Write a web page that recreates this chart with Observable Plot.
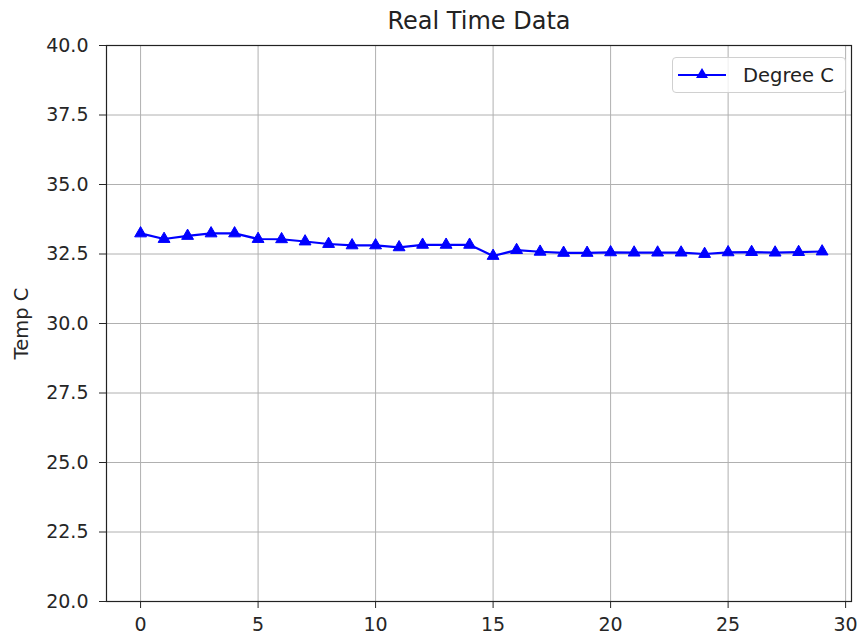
<!DOCTYPE html>
<html>
<head>
<meta charset="utf-8">
<script src="https://cdn.jsdelivr.net/npm/d3@7"></script>
<script src="https://cdn.jsdelivr.net/npm/@observablehq/plot@0.6"></script>
<style>
  body { margin: 0; background: #fff; font-family: "DejaVu Sans", sans-serif; }
  #wrap { position: relative; width: 858px; height: 643px; }
  #legend { position: absolute; left: 672px; top: 57px; width: 174px; height: 36px;
    border: 1px solid #d0d0d0; border-radius: 4px; background: rgba(255,255,255,0.8);
    box-sizing: border-box; display: flex; align-items: center; }
  #legend span { font-size: 19.5px; color: #222; margin-left: 10px; }
</style>
</head>
<body>
<div id="wrap"></div>
<script>
const title = "Real Time Data";
const yLabel = "Temp C";
const seriesName = "Degree C";
const samples = d3.range(30);
const temps = [33.24, 33.04, 33.15, 33.24, 33.24, 33.04, 33.03, 32.95, 32.86, 32.81, 32.81, 32.74, 32.83, 32.83, 32.83,
               32.43, 32.64, 32.58, 32.54, 32.54, 32.56, 32.55, 32.55, 32.55, 32.5, 32.56, 32.57, 32.55, 32.57, 32.59];
const yTicks = [20, 22.5, 25, 27.5, 30, 32.5, 35, 37.5, 40];
const xTicks = [0, 5, 10, 15, 20, 25, 30];

const data = samples.map((s, i) => ({x: s, y: temps[i]}));
const tickColor = "#262626";

const chart = Plot.plot({
  width: 858,
  height: 643,
  marginLeft: 106,
  marginRight: 7,
  marginTop: 45,
  marginBottom: 42,
  style: {fontFamily: "DejaVu Sans, sans-serif", background: "#fff", color: "#222"},
  x: {domain: [-1.45, 30.25]},
  y: {domain: [20, 40]},
  marks: [
    Plot.gridX(xTicks, {stroke: "#b0b0b0", strokeOpacity: 1, strokeWidth: 1}),
    Plot.gridY(yTicks, {stroke: "#b0b0b0", strokeOpacity: 1, strokeWidth: 1}),
    Plot.axisX(xTicks, {tickSize: 7, tickPadding: 9, fontSize: 19, label: null, stroke: tickColor, fill: tickColor}),
    Plot.axisY(yTicks, {tickSize: 7, tickPadding: 11, fontSize: 19, tickFormat: d3.format(".1f"),
      label: yLabel, labelAnchor: "center", labelArrow: "none", labelOffset: 92, stroke: tickColor, fill: tickColor}),
    Plot.frame({stroke: "#222", strokeWidth: 1.2}),
    Plot.line(data, {x: "x", y: "y", stroke: "#0000ff", strokeWidth: 2.2}),
    Plot.dot(data, {x: "x", y: "y", symbol: "triangle", r: 4.4, fill: "#0000ff", stroke: "#0000ff", strokeWidth: 1}),
    Plot.text([title], {frameAnchor: "top", lineAnchor: "middle", dy: -24, fontSize: 24, fill: "#222"})
  ]
});
d3.select(chart).selectAll("[aria-label='y-axis label'] text").attr("font-size", 19.5);
document.getElementById("wrap").appendChild(chart);

const leg = document.createElement("div");
leg.id = "legend";
leg.innerHTML = `<svg width="56" height="24" style="margin-left:4px"><line x1="1" y1="12" x2="49" y2="12" stroke="#0000ff" stroke-width="2.2"/><path d="M25,5 L31,15 L19,15 Z" fill="#0000ff"/></svg><span>${seriesName}</span>`;
document.getElementById("wrap").appendChild(leg);
</script>
</body>
</html>
